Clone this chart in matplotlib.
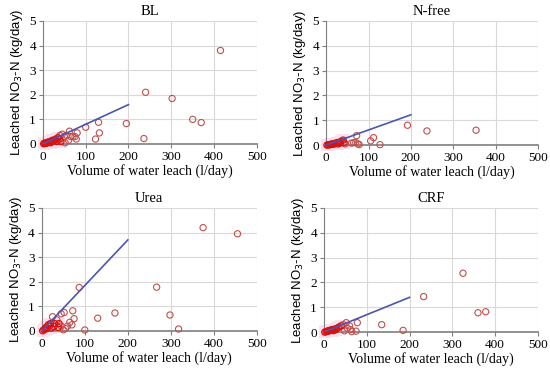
import numpy as np
import matplotlib.pyplot as plt

# ---------------- donnees ----------------
titles = ["BL", "N-free", "Urea", "CRF"]

# BL
bl_x = [415, 240, 302, 350, 370, 195, 100, 130, 132, 123, 236, 80, 75, 78, 62, 65, 70,
        55, 50, 45, 40, 35, 30, 28, 25, 20, 15, 10, 5, 2, 60, 52, 42, 38, 33, 22, 18, 12, 8, 4]
bl_y = [3.8, 2.1, 1.85, 1.0, 0.87, 0.83, 0.68, 0.88, 0.45, 0.2, 0.22, 0.45, 0.3, 0.2, 0.52, 0.3, 0.3,
        0.35, 0.3, 0.4, 0.35, 0.25, 0.2, 0.15, 0.12, 0.1, 0.08, 0.05, 0.02, 0.01, 0.15, 0.05, 0.1, 0.2,
        0.1, 0.15, 0.05, 0.08, 0.03, 0.04]
bl_fit = [0, 1.6]

# N-free
nf_x = [192, 238, 354, 112, 105, 127, 72, 75, 70, 65, 60, 40, 35, 30, 25, 20, 15, 10, 5, 45,
        42, 78, 2, 8, 12, 18, 28, 33]
nf_y = [0.8, 0.57, 0.6, 0.3, 0.17, 0.02, 0.38, 0.05, 0.1, 0.1, 0.08, 0.2, 0.15, 0.1, 0.1, 0.05,
        0.03, 0.02, 0.01, 0.05, 0.1, 0.02, 0.0, 0.02, 0.04, 0.06, 0.05, 0.08]
nf_fit = [0, 1.22]

# Urea
ur_x = [375, 455, 267, 87, 298, 318, 170, 130, 100, 72, 75, 52, 45, 25, 35, 40, 65, 70, 60,
        55, 50, 30, 20, 15, 10, 5, 45, 38, 2, 8, 12, 18, 22, 28]
ur_y = [4.2, 3.95, 1.78, 1.77, 0.65, 0.08, 0.73, 0.52, 0.04, 0.82, 0.5, 0.75, 0.7, 0.58, 0.45,
        0.3, 0.35, 0.25, 0.2, 0.1, 0.05, 0.3, 0.3, 0.25, 0.15, 0.05, 0.2, 0.15, 0.01, 0.08, 0.1,
        0.2, 0.12, 0.18]
ur_fit = [0, 3.7]

# CRF
crf_x = [325, 233, 360, 378, 135, 185, 78, 75, 52, 60, 55, 45, 40, 35, 30, 25, 20, 15, 10, 5,
         48, 62, 65, 2, 8, 12, 18, 22, 28]
crf_y = [2.37, 1.43, 0.78, 0.82, 0.3, 0.07, 0.38, 0.04, 0.38, 0.25, 0.15, 0.3, 0.25, 0.2, 0.15,
         0.12, 0.1, 0.08, 0.05, 0.02, 0.05, 0.1, 0.02, 0.0, 0.03, 0.05, 0.08, 0.06, 0.1]
crf_fit = [0, 1.4]

fit_x = [0, 200]

series = [(bl_x, bl_y, bl_fit), (nf_x, nf_y, nf_fit), (ur_x, ur_y, ur_fit), (crf_x, crf_y, crf_fit)]

# ---------------- figure ----------------
plt.rcParams['font.family'] = ['Liberation Serif', 'DejaVu Serif']

fig = plt.figure(figsize=(5.5, 3.74), dpi=100)
positions = [
    [0.078, 0.615, 0.389, 0.329],
    [0.593, 0.612, 0.385, 0.332],
    [0.076, 0.115, 0.391, 0.329],
    [0.589, 0.112, 0.389, 0.332],
]

for pos, title, (x, y, fit) in zip(positions, titles, series):
    ax = fig.add_axes(pos)
    x = np.array(x)
    y = np.array(y)
    near = (x < 45) & (y < 0.35)

    # halo rose autour de l'amas pres de l'origine (artefact de l'original)
    ax.scatter(x[near], y[near], s=70, marker='s', color='#FDE0EF', linewidths=0, zorder=1,
               clip_on=False)
    ax.scatter(x[~near], y[~near], s=20, facecolors='none', edgecolors='#C0504D',
               linewidths=0.8, zorder=3, clip_on=False)
    ax.scatter(x[near], y[near], s=20, facecolors='none', edgecolors='#D81010',
               linewidths=0.9, zorder=3, clip_on=False)
    ax.plot(fit_x, fit, color='#4A56B0', lw=1.2, zorder=4)

    ax.set_xlim(0, 500)
    ax.set_ylim(0, 5)
    ax.set_xticks(range(0, 501, 100))
    ax.set_yticks(range(0, 6))
    ax.grid(True, color='#D9D9D9', lw=0.8)
    ax.set_axisbelow(True)
    for s in ['top', 'right']:
        ax.spines[s].set_visible(False)
    ax.spines['left'].set_color('#7F7F7F')
    ax.spines['bottom'].set_color('#7F7F7F')
    ax.spines['bottom'].set_linewidth(1.2)
    ax.tick_params(length=3, width=0.8, color='#7F7F7F', labelsize=9.5, pad=2)
    ax.set_title(title, fontsize=10.5, pad=4)
    ax.set_xlabel("Volume of water leach (l/day)", fontsize=10, labelpad=1)
    ax.set_ylabel("Leached NO$_3$-N (kg/day)", fontsize=9.5, family=['Liberation Sans', 'DejaVu Sans'],
                  labelpad=3)

fig.savefig("out.png", dpi=100)
